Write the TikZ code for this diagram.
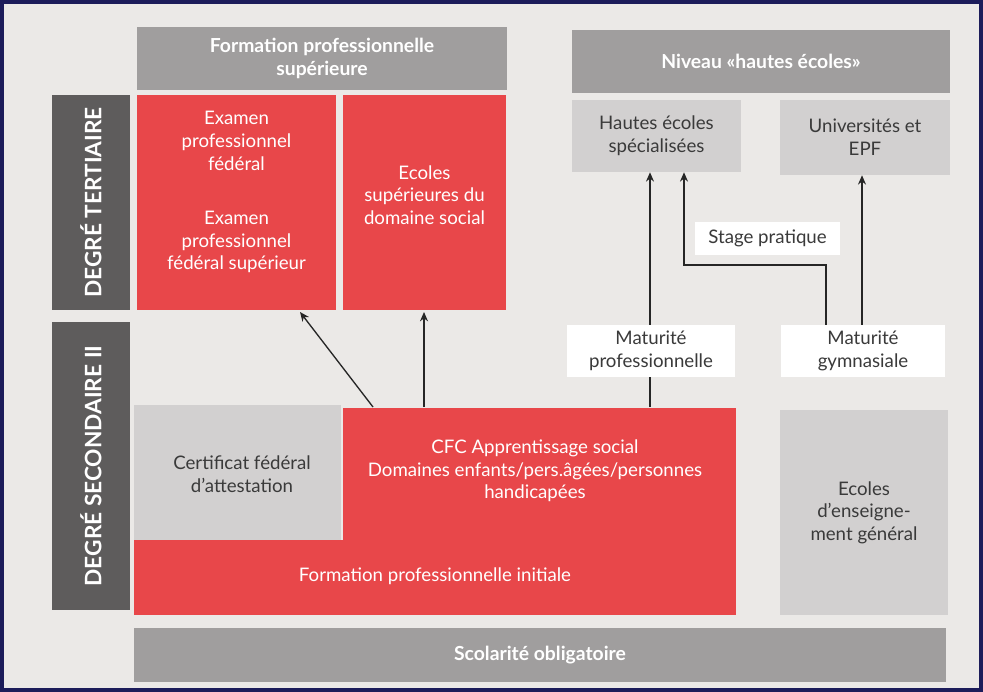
\documentclass[tikz,border=0pt]{standalone}
\usepackage{fontspec}
\setmainfont{Lato}
\usetikzlibrary{arrows.meta}
\definecolor{bg}{HTML}{EBE9E7}
\definecolor{hdr}{HTML}{A09E9E}
\definecolor{lg}{HTML}{D2D0D0}
\definecolor{dg}{HTML}{5E5C5C}
\definecolor{rd}{HTML}{E8474A}
\definecolor{frame}{HTML}{1C1C5A}
\definecolor{txt}{HTML}{3A3A3A}
\tikzset{
 box/.style={draw=none,inner sep=0pt,align=center,text=txt,font=\fontsize{14}{17}\selectfont},
 hdrbox/.style={box,fill=hdr,text=white,font=\bfseries\fontsize{14.5}{17}\selectfont},
 whitebox/.style={box,fill=white},
 arr/.style={-{Stealth[length=7pt,width=6pt]},line width=1pt,color=black!85}
}
\begin{document}
\begin{tikzpicture}[x=0.75pt,y=-0.75pt]
\fill[frame] (0,0) rectangle (983,692);
\fill[bg] (4,4) rectangle (979,688);
% headers
\node[hdrbox,minimum width={370*0.75pt},minimum height={63*0.75pt}] (fps) at (322,58.5) {Formation professionnelle\\supérieure};
\node[hdrbox,minimum width={378*0.75pt},minimum height={63*0.75pt}] (nhe) at (761,61.5) {Niveau «hautes écoles»};
% side bars
\fill[dg] (52,95) rectangle (130,310);
\node[rotate=90,text=white,font=\bfseries\fontsize{17}{19}\selectfont] (dt) at (91,202.5) {DEGRÉ TERTIAIRE};
\fill[dg] (52,322) rectangle (130,610);
\node[rotate=90,text=white,font=\bfseries\fontsize{17}{19}\selectfont] (ds) at (91,466) {DEGRÉ SECONDAIRE II};
% red tertiary
\fill[rd] (137,95) rectangle (336,310);
\node[box,text=white] (ex1) at (236.5,141) {Examen\\professionnel\\fédéral};
\node[box,text=white] (ex2) at (236.5,242) {Examen\\professionnel\\fédéral supérieur};
\fill[rd] (343,95) rectangle (506,310);
\node[box,text=white] (es) at (424.5,195) {Ecoles\\supérieures du\\domaine social};
\coordinate (exb) at (300,312);
\coordinate (esb) at (424,312);
% hautes ecoles
\node[box,fill=lg,minimum width={169*0.75pt},minimum height={72*0.75pt}] (hes) at (656.5,136) {Hautes écoles\\spécialisées};
\node[box,fill=lg,minimum width={170*0.75pt},minimum height={75*0.75pt}] (uni) at (865,137.5) {Universités et\\EPF};
\node[whitebox,minimum width={145*0.75pt},minimum height={33*0.75pt}] (sp) at (767.5,238.5) {Stage pratique};
\node[whitebox,minimum width={168*0.75pt},minimum height={52*0.75pt}] (mp) at (651,351) {Maturité\\professionnelle};
\node[whitebox,minimum width={164*0.75pt},minimum height={52*0.75pt}] (mg) at (863,351) {Maturité\\gymnasiale};
% secondary
\fill[lg] (134,405) rectangle (341,540);
\node[box] (cfa) at (242,474) {Certificat fédéral\\d'attestation};
\fill[rd] (343,408) rectangle (736,540);
\fill[rd] (134,540) rectangle (736,615);
\node[box,text=white] (cfc) at (535,471) {CFC Apprentissage social\\Domaines enfants/pers.âgées/personnes\\handicapées};
\node[box,text=white] (fpi) at (435,576) {Formation professionnelle initiale};
\node[box,fill=lg,minimum width={168*0.75pt},minimum height={205*0.75pt}] (eeg) at (864,512.5) {Ecoles\\d'enseigne-\\ment général};
\node[hdrbox,minimum width={812*0.75pt},minimum height={54*0.75pt}] (so) at (540,655) {Scolarité obligatoire};
% arrows
\coordinate (c1) at (373,407);
\coordinate (c2) at (424,407);
\coordinate (c3) at (650,407);
\draw[arr] (c1) -- (exb);
\draw[arr] (c2) -- (esb);
\draw[line width=1pt,color=black!85] (c3) -- (mp.south -| c3);
\draw[arr] (mp.north -| c3) -- (hes.south -| c3);
\draw[arr] (mg.north -| 862,0) -- (uni.south -| 862,0);
\draw[arr] (mg.north -| 826,0) -- (826,265) -- (684,265) -- (hes.south -| 684,0);
\end{tikzpicture}
\end{document}
